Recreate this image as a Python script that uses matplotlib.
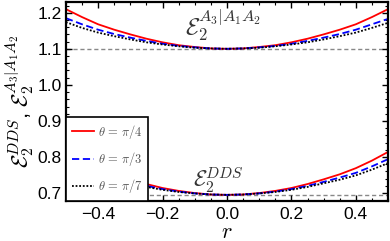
import matplotlib
matplotlib.use("Agg")
import matplotlib.pyplot as plt
from matplotlib.ticker import MultipleLocator, FuncFormatter

plt.rcParams['mathtext.fontset'] = 'cm'
plt.rcParams['font.family'] = ['Liberation Sans', 'DejaVu Sans']

r = [-0.50, -0.45, -0.40, -0.35, -0.30, -0.25, -0.20, -0.15, -0.10, -0.05, 0.00,
     0.05, 0.10, 0.15, 0.20, 0.25, 0.30, 0.35, 0.40, 0.45, 0.50]

# Upper family: E2^{A3|A1A2}
up_pi4 = [1.210, 1.188, 1.168, 1.153, 1.140, 1.128, 1.118, 1.110, 1.105, 1.101, 1.100,
          1.101, 1.105, 1.110, 1.118, 1.128, 1.140, 1.153, 1.168, 1.188, 1.210]
up_pi3 = [1.185, 1.168, 1.153, 1.141, 1.131, 1.122, 1.114, 1.108, 1.104, 1.101, 1.100,
          1.101, 1.104, 1.108, 1.114, 1.122, 1.131, 1.141, 1.153, 1.168, 1.183]
up_pi7 = [1.174, 1.158, 1.145, 1.135, 1.126, 1.118, 1.112, 1.107, 1.103, 1.101, 1.100,
          1.101, 1.103, 1.107, 1.112, 1.118, 1.126, 1.135, 1.145, 1.158, 1.172]
up_base = 1.1

# Lower family: E2^{DDS}
lo_pi4 = [0.814, 0.790, 0.769, 0.752, 0.738, 0.725, 0.714, 0.706, 0.700, 0.696, 0.695,
          0.696, 0.700, 0.706, 0.714, 0.725, 0.738, 0.752, 0.769, 0.790, 0.814]
lo_pi3 = [0.794, 0.774, 0.756, 0.743, 0.731, 0.720, 0.711, 0.704, 0.699, 0.696, 0.695,
          0.696, 0.699, 0.704, 0.711, 0.720, 0.731, 0.743, 0.756, 0.774, 0.794]
lo_pi7 = [0.783, 0.765, 0.749, 0.737, 0.727, 0.717, 0.709, 0.703, 0.699, 0.696, 0.695,
          0.696, 0.699, 0.703, 0.709, 0.717, 0.727, 0.737, 0.749, 0.765, 0.783]
lo_base = 0.695

labels = [r'$\theta\,=\,\pi/4$', r'$\theta\,=\,\pi/3$', r'$\theta\,=\,\pi/7$']

fig = plt.figure(figsize=(3.9, 2.41), dpi=100)
ax = fig.add_axes([0.169, 0.166, 0.826, 0.826])

ax.axhline(up_base, color='#888888', ls=(0, (3, 2)), lw=1.0, zorder=1)
ax.axhline(lo_base, color='#888888', ls=(0, (3, 2)), lw=1.0, zorder=1)

ax.plot(r, up_pi4, color='#ff0000', lw=1.3, label=labels[0])
ax.plot(r, up_pi3, color='#0000ff', lw=1.3, ls=(0, (4, 2)), label=labels[1])
ax.plot(r, up_pi7, color='black', lw=1.3, ls=(0, (1, 1)), label=labels[2])
ax.plot(r, lo_pi4, color='#ff0000', lw=1.3)
ax.plot(r, lo_pi3, color='#0000ff', lw=1.3, ls=(0, (4, 2)))
ax.plot(r, lo_pi7, color='black', lw=1.3, ls=(0, (1, 1)))

ax.set_xlim(-0.5, 0.5)
ax.set_ylim(0.678, 1.23)
ax.xaxis.set_major_locator(MultipleLocator(0.2))
ax.xaxis.set_minor_locator(MultipleLocator(0.05))
ax.yaxis.set_major_locator(MultipleLocator(0.1))
ax.yaxis.set_minor_locator(MultipleLocator(0.02))
ax.tick_params(which='both', direction='in', top=True, right=True, labelsize=12.5)
ax.tick_params(axis='x', pad=4)
ax.tick_params(axis='y', pad=3)
ax.tick_params(which='major', length=4, width=1)
ax.tick_params(which='minor', length=2, width=0.8)
for s in ax.spines.values():
    s.set_linewidth(1.6)

ax.xaxis.set_major_formatter(FuncFormatter(lambda v, p: f'{v:.1f}'.replace('-', '\u2212')))
ax.yaxis.set_major_formatter(FuncFormatter(lambda v, p: f'{v:.1f}'))

ax.set_xlabel(r'$r$', fontsize=16, labelpad=0)
ax.set_ylabel(r'$\mathcal{E}_2^{DDS}$, $\mathcal{E}_2^{A_3|A_1A_2}$', fontsize=16, labelpad=1)

ax.text(-0.13, 1.138, r'$\mathcal{E}_2^{A_3|A_1A_2}$', fontsize=17, color='#333333')
ax.text(-0.105, 0.717, r'$\mathcal{E}_2^{DDS}$', fontsize=16, color='#333333')

leg = ax.legend(loc='lower left', fontsize=9, frameon=True, fancybox=False,
                borderaxespad=0.0, handlelength=1.8, handletextpad=0.3,
                labelspacing=0.75, borderpad=0.45, labelcolor='#555555')
leg.get_frame().set_edgecolor('black')
leg.get_frame().set_linewidth(1.2)
leg.get_frame().set_alpha(1)

fig.savefig('out.png', dpi=100)
